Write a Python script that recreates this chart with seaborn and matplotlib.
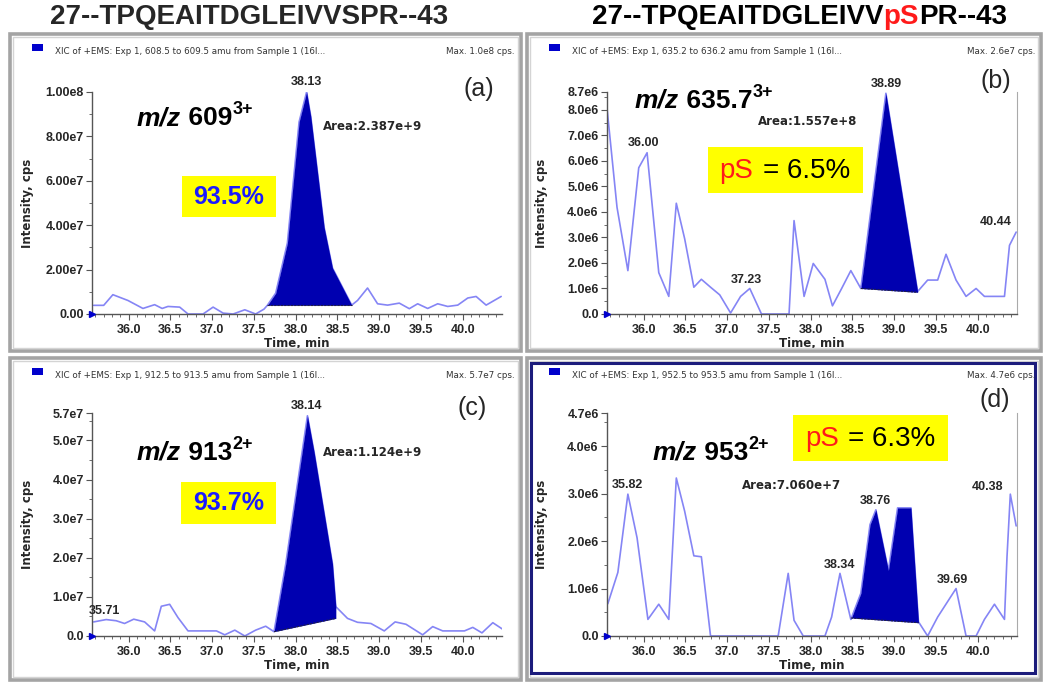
import numpy as np
import pandas as pd
import seaborn as sns
import matplotlib.pyplot as plt
from matplotlib.patches import Rectangle
from matplotlib.ticker import MultipleLocator, FixedLocator

# ---- values (time in min) ----
time_a = [35.58, 35.70, 35.81, 35.99, 36.17, 36.31, 36.40, 36.47, 36.61, 36.71, 36.89, 37.01, 37.13, 37.25,
          37.39, 37.52, 37.62, 37.66, 37.76, 37.90, 38.04, 38.13, 38.18, 38.34, 38.44, 38.67, 38.74, 38.86,
          38.98, 39.10, 39.24, 39.36, 39.46, 39.58, 39.70, 39.82, 39.94, 40.06, 40.16, 40.28, 40.46]
int_a_e6 = [3.9, 3.9, 8.7, 6.1, 2.5, 4.2, 2.5, 3.4, 3.1, 0, 0, 3.1, 0.4, 0, 1.9, 0, 2.2, 3.9, 9.4, 32, 86.5,
            100, 89, 39, 20.7, 4.0, 6.1, 11.7, 4.6, 4.0, 4.9, 2.4, 4.6, 2.5, 4.6, 3.4, 4.0, 7.2, 7.9, 4.0, 7.9]

time_b = [35.56, 35.68, 35.81, 35.94, 36.04, 36.18, 36.30, 36.39, 36.49, 36.60, 36.69, 36.80, 36.91, 37.04,
          37.16, 37.27, 37.41, 37.74, 37.80, 37.92, 38.03, 38.17, 38.26, 38.37, 38.48, 38.60, 38.90, 39.28,
          39.40, 39.52, 39.62, 39.74, 39.86, 39.98, 40.08, 40.32, 40.38, 40.46]
int_b_e6 = [8.07, 4.18, 1.70, 5.73, 6.32, 1.62, 0.69, 4.34, 2.95, 1.05, 1.36, 1.05, 0.75, 0.04, 0.69, 1.00,
            0, 0, 3.66, 0.69, 1.98, 1.36, 0.32, 1.00, 1.70, 1.00, 8.65, 0.88, 1.33, 1.33, 2.34, 1.33, 0.69,
            1.00, 0.69, 0.69, 2.69, 3.21]

time_c = [35.58, 35.73, 35.85, 35.95, 36.06, 36.19, 36.31, 36.39, 36.49, 36.59, 36.71, 37.05, 37.15, 37.27,
          37.39, 37.52, 37.64, 37.74, 37.88, 38.14, 38.22, 38.44, 38.48, 38.62, 38.74, 38.90, 39.06, 39.19,
          39.32, 39.52, 39.64, 39.76, 40.02, 40.12, 40.23, 40.36, 40.48]
int_c_e7 = [0.36, 0.42, 0.39, 0.32, 0.43, 0.36, 0.13, 0.76, 0.81, 0.47, 0.13, 0.13, 0.03, 0.15, 0.0, 0.15,
            0.25, 0.11, 1.84, 5.63, 4.7, 1.84, 0.75, 0.45, 0.35, 0.32, 0.13, 0.36, 0.30, 0.03, 0.24, 0.13,
            0.13, 0.22, 0.08, 0.34, 0.17]

time_d = [35.57, 35.69, 35.81, 35.92, 36.05, 36.18, 36.30, 36.39, 36.49, 36.60, 36.69, 36.80, 37.61, 37.73,
          37.80, 37.91, 38.17, 38.25, 38.35, 38.48, 38.60, 38.71, 38.78, 38.93, 39.04, 39.20, 39.29, 39.40,
          39.52, 39.74, 39.86, 39.98, 40.08, 40.20, 40.32, 40.35, 40.39, 40.46]
int_d_e6 = [0.68, 1.34, 2.99, 2.07, 0.35, 0.67, 0.35, 3.33, 2.63, 1.69, 1.67, 0, 0, 1.32, 0.33, 0, 0, 0.40,
            1.32, 0.35, 0.90, 2.35, 2.66, 1.38, 2.70, 2.70, 0.30, 0, 0.40, 1.00, 0, 0, 0.35, 0.67, 0.35,
            1.66, 2.99, 2.32]

# integrated region (start, end) and baseline intensity at its ends
fill_a, base_a = (37.66, 38.67), (3.9e6, 3.9e6)
fill_b, base_b = (38.60, 39.28), (1.0e6, 0.85e6)
fill_c, base_c = (37.74, 38.48), (0.11e7, 0.45e7)
fill_d, base_d = (38.48, 39.29), (0.38e6, 0.28e6)

xtick_vals = [36.0, 36.5, 37.0, 37.5, 38.0, 38.5, 39.0, 39.5, 40.0]
xtick_labels = ['36.0', '36.5', '37.0', '37.5', '38.0', '38.5', '39.0', '39.5', '40.0']

ytick_a = [0, 2e7, 4e7, 6e7, 8e7, 1e8]
ylab_a = ['0.00', '2.00e7', '4.00e7', '6.00e7', '8.00e7', '1.00e8']
ytick_b = [0, 1e6, 2e6, 3e6, 4e6, 5e6, 6e6, 7e6, 8e6, 8.7e6]
ylab_b = ['0.0', '1.0e6', '2.0e6', '3.0e6', '4.0e6', '5.0e6', '6.0e6', '7.0e6', '8.0e6', '8.7e6']
ytick_c = [0, 1e7, 2e7, 3e7, 4e7, 5e7, 5.7e7]
ylab_c = ['0.0', '1.0e7', '2.0e7', '3.0e7', '4.0e7', '5.0e7', '5.7e7']
ytick_d = [0, 1e6, 2e6, 3e6, 4e6, 4.7e6]
ylab_d = ['0.0', '1.0e6', '2.0e6', '3.0e6', '4.0e6', '4.7e6']

# peak labels: text, time, intensity
peaks_a = [('38.13', 38.13, 1.02e8)]
peaks_b = [('36.00', 36.00, 6.45e6), ('37.23', 37.23, 1.1e6), ('38.89', 38.90, 8.78e6)]
peaks_c = [('38.14', 38.13, 5.72e7), ('35.71', 35.71, 0.49e7)]
peaks_d = [('35.82', 35.81, 3.05e6), ('38.76', 38.77, 2.72e6), ('38.34', 38.35, 1.38e6), ('39.69', 39.70, 1.06e6)]
end_b = ('40.44', 40.40, 3.62e6)
end_d = ('40.38', 40.31, 3.15e6)

area_a = ('Area:2.387e+9', 38.32, 0.845e8)
area_b = ('Area:1.557e+8', 37.37, 7.55e6)
area_c = ('Area:1.124e+9', 38.33, 4.69e7)
area_d = ('Area:7.060e+7', 37.17, 3.17e6)

sns.set_style('white')
plt.rcParams['font.family'] = ['Liberation Sans', 'DejaVu Sans']

W, H = 1050, 696
def fx(p):
    return p / W
def fy(p):
    return 1 - p / H

fig = plt.figure(figsize=(10.5, 6.96), dpi=100)
fig.patch.set_facecolor('white')
renderer = fig.canvas.get_renderer()

LINE = '#8585f5'
FILL = '#0000b0'
WIDE = 'DejaVu Sans'


def chain(x_px, y_px, parts, **kw):
    # write text pieces one after another, each piece: (text, dy_px, extra kwargs)
    xpos = fx(x_px)
    for s, dy, extra in parts:
        opts = dict(kw)
        opts.update(extra)
        tx = fig.text(xpos, fy(y_px - dy), s, ha='left', **opts)
        xpos += tx.get_window_extent(renderer=renderer).width / fig.bbox.width


panels = [
    dict(t=time_a, v=np.array(int_a_e6) * 1e6, box=(92, 92, 502, 314), yt=ytick_a, yl=ylab_a, ymin=1e7,
         fill=fill_a, base=base_a, peaks=peaks_a, end=None, area=area_a, right=False,
         hdr='XIC of +EMS: Exp 1, 608.5 to 609.5 amu from Sample 1 (16l...', mx='Max. 1.0e8 cps.'),
    dict(t=time_b, v=np.array(int_b_e6) * 1e6, box=(607, 92, 1017, 314), yt=ytick_b, yl=ylab_b, ymin=5e5,
         fill=fill_b, base=base_b, peaks=peaks_b, end=end_b, area=area_b, right=True,
         hdr='XIC of +EMS: Exp 1, 635.2 to 636.2 amu from Sample 1 (16l...', mx='Max. 2.6e7 cps.'),
    dict(t=time_c, v=np.array(int_c_e7) * 1e7, box=(92, 413, 502, 636), yt=ytick_c, yl=ylab_c, ymin=5e6,
         fill=fill_c, base=base_c, peaks=peaks_c, end=None, area=area_c, right=False,
         hdr='XIC of +EMS: Exp 1, 912.5 to 913.5 amu from Sample 1 (16l...', mx='Max. 5.7e7 cps.'),
    dict(t=time_d, v=np.array(int_d_e6) * 1e6, box=(607, 413, 1017, 636), yt=ytick_d, yl=ylab_d, ymin=5e5,
         fill=fill_d, base=base_d, peaks=peaks_d, end=end_d, area=area_d, right=True,
         hdr='XIC of +EMS: Exp 1, 952.5 to 953.5 amu from Sample 1 (16l...', mx='Max. 4.7e6 cps.'),
]

# panel frames (gray window borders, d is the selected one in blue)
frames = [(10, 34, 521, 351), (527, 34, 1041, 351), (10, 358, 521, 680), (527, 358, 1041, 680)]
for (x0, y0, x1, y1) in frames:
    fig.add_artist(Rectangle((fx(x0), fy(y1)), fx(x1 - x0), (y1 - y0) / H, transform=fig.transFigure,
                             fill=False, ec='#a4a4a4', lw=2.6))
    fig.add_artist(Rectangle((fx(x0 + 3), fy(y1 - 3)), fx(x1 - x0 - 6), (y1 - y0 - 6) / H,
                             transform=fig.transFigure, fill=False, ec='#d4d4d4', lw=1))
fig.add_artist(Rectangle((fx(531), fy(673)), fx(1035 - 531), (673 - 363) / H, transform=fig.transFigure,
                         fill=False, ec='#1c1c7c', lw=2.2))

for p, (x0, y0, x1, y1) in zip(panels, frames):
    # window header line
    fig.add_artist(Rectangle((fx(x0 + 22), fy(y0 + 17)), fx(11), 7 / H, transform=fig.transFigure,
                             fc='#0000cc', ec='none'))
    fig.text(fx(x0 + 45), fy(y0 + 17), p['hdr'], fontsize=6.3, family=WIDE, color='#333333', va='center')
    fig.text(fx(x1 - 6), fy(y0 + 17), p['mx'], fontsize=6.3, family=WIDE, color='#333333', va='center',
             ha='right')

for p in panels:
    l, t, r, b = p['box']
    ax = fig.add_axes([fx(l), fy(b), (r - l) / W, (b - t) / H])
    df = pd.DataFrame({'time': p['t'], 'intensity': p['v']})
    sns.lineplot(data=df, x='time', y='intensity', ax=ax, color=LINE, lw=1.2, estimator=None)

    tt = np.array(p['t'])
    vv = np.array(p['v'])
    m = (tt >= p['fill'][0] - 1e-9) & (tt <= p['fill'][1] + 1e-9)
    base = np.interp(tt[m], p['fill'], p['base'])
    ax.fill_between(tt[m], vv[m], base, color=FILL, lw=0, zorder=3)
    ax.plot(p['fill'], p['base'], color='#222244', lw=0.8, ls=(0, (2, 1)), zorder=4)

    ax.set_xlim(35.56, 40.47)
    ax.set_ylim(0, p['yt'][-1])
    ax.xaxis.set_major_locator(FixedLocator(xtick_vals))
    ax.set_xticklabels(xtick_labels, fontweight='bold')
    ax.xaxis.set_minor_locator(MultipleLocator(0.1))
    ax.yaxis.set_major_locator(FixedLocator(p['yt']))
    ax.set_yticklabels(p['yl'], fontweight='bold')
    ax.yaxis.set_minor_locator(MultipleLocator(p['ymin']))
    ax.tick_params(which='major', length=4, width=0.8, color='#555555', labelsize=9, pad=2,
                   bottom=True, left=True)
    ax.tick_params(axis='x', pad=3)
    ax.tick_params(which='minor', length=2, width=0.6, color='#555555', bottom=True, left=True)

    for s in ['top', 'right']:
        ax.spines[s].set_visible(False)
    for s in ['left', 'bottom']:
        ax.spines[s].set_color('#555555')
        ax.spines[s].set_linewidth(1.0)
    if p['right']:
        ax.spines['right'].set_visible(True)
        ax.spines['right'].set_color('#aaaaaa')
        ax.spines['right'].set_linewidth(0.8)
    ax.patch.set_alpha(0)

    ax.set_xlabel('Time, min', fontsize=8.5, fontweight='bold', family=WIDE)
    ax.set_ylabel('Intensity, cps', fontsize=8.5, fontweight='bold', family=WIDE)
    ax.xaxis.set_label_coords(0.5, -0.105)
    ax.yaxis.set_label_coords(-0.142 if l < 500 else -0.145, 0.5)

    ax.plot([0], [0], marker='>', ms=5, color='#0000cc', transform=ax.transAxes, clip_on=False, zorder=5)

    for txt, x, y in p['peaks']:
        ax.text(x, y, txt, fontsize=9, fontweight='bold', ha='center', va='bottom', clip_on=False)
    if p['end']:
        txt, x, y = p['end']
        ax.text(x, y, txt, fontsize=9, fontweight='bold', ha='right', va='center')
    txt, x, y = p['area']
    ax.text(x, y, txt, fontsize=8.5, fontweight='bold', family=WIDE, ha='left', va='center')

# m/z labels: italic m/z, bold mass, superscript charge
mz = [('609', '3+', 137, 125), ('635.7', '3+', 635, 108), ('913', '2+', 137, 460), ('953', '2+', 653, 460)]
for mass, charge, x, y in mz:
    chain(x, y, [('m/z', 0, dict(fontstyle='italic')), (' ' + mass, 0, {}),
                 (charge, 11, dict(fontsize=13))],
          fontsize=19, fontweight='bold', va='baseline', color='black')

# panel letters
for s, x, y in [('(a)', 479, 89), ('(b)', 996, 81), ('(c)', 472, 408), ('(d)', 995, 400)]:
    fig.text(fx(x), fy(y), s, fontsize=18, ha='center', va='center')

# yellow highlight boxes
boxes = [(182, 176, 276, 217), (708, 147, 863, 193), (181, 482, 276, 524), (793, 415, 948, 461)]
for (x0, y0, x1, y1) in boxes:
    fig.add_artist(Rectangle((fx(x0), fy(y1)), fx(x1 - x0), (y1 - y0) / H, transform=fig.transFigure,
                             fc='#ffff00', ec='none'))
fig.text(fx(229), fy(197), '93.5%', fontsize=18, fontweight='bold', color='#1a1aff', ha='center', va='center')
fig.text(fx(229), fy(503), '93.7%', fontsize=18, fontweight='bold', color='#1a1aff', ha='center', va='center')
for x_ps, x_eq, y, pct in [(719, 763, 171, '= 6.5%'), (805, 848, 439, '= 6.3%')]:
    fig.text(fx(x_ps), fy(y), 'pS', fontsize=20, color='#ff1a1a', ha='left', va='center')
    fig.text(fx(x_eq), fy(y), pct, fontsize=20, color='black', ha='left', va='center')

# peptide titles
fig.text(fx(249), fy(17), '27--TPQEAITDGLEIVVSPR--43', fontsize=20, fontweight='bold', ha='center', va='center')
chain(592, 17, [('27--TPQEAITDGLEIVV', 0, {}), ('pS', 0, dict(color='#ff1a1a')), ('PR--43', 0, {})],
      fontsize=20, fontweight='bold', va='center', color='black')

fig.savefig('out.png', dpi=100, facecolor='white')
